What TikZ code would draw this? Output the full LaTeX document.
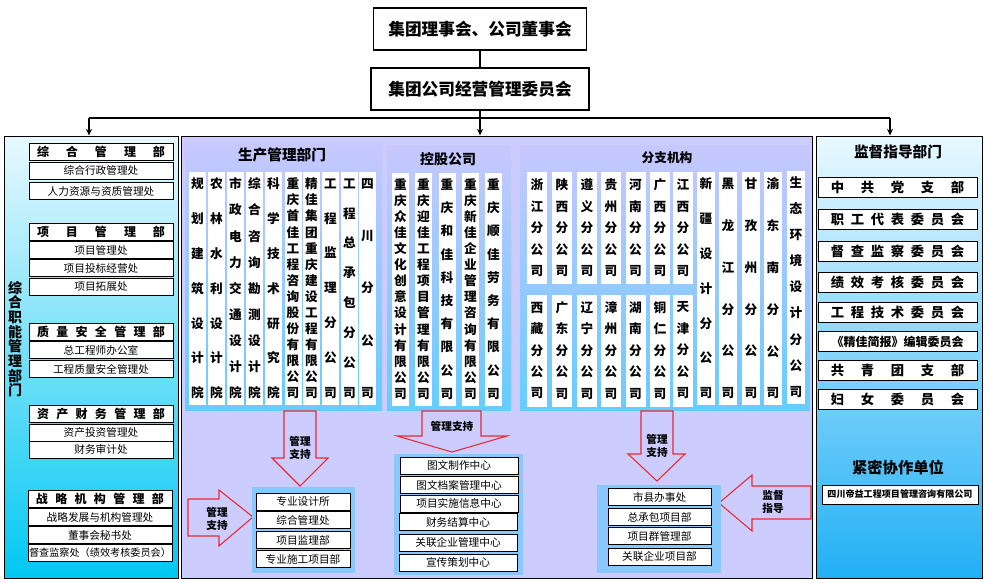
\documentclass[tikz,border=0pt]{standalone}
\usepackage{fontspec}
\setmainfont{Noto Sans CJK SC}
\usetikzlibrary{arrows.meta,fit}

\definecolor{lavpanel}{RGB}{204,204,255}
\definecolor{subtop}{RGB}{200,200,255}
\definecolor{subbot}{RGB}{102,204,255}
\definecolor{lefttop}{RGB}{232,249,255}
\definecolor{leftbot}{RGB}{0,200,242}
\definecolor{righttop}{RGB}{232,249,255}
\definecolor{rightbot}{RGB}{34,176,245}
\definecolor{backblue}{RGB}{136,200,255}
\definecolor{arrowred}{RGB}{235,40,50}

\newcommand{\spreadto}[2]{\hbox to #1{#2}}

\tikzset{every picture/.style={line width=0.75pt}}
\tikzset{
  board/.style={draw, line width=1.1pt, fill=white, minimum width=160pt, minimum height=31.5pt, inner sep=0pt, font=\bfseries\fontsize{12.5}{12.5}\selectfont},
  bus/.style={line width=1.2pt},
  panel/.style={draw, inner sep=0pt},
  unit/.style={draw, fill=white, inner sep=0pt, minimum width=108pt, minimum height=12.75pt, font=\fontsize{8}{8}\selectfont},
  unithead/.style={unit, font=\bfseries\fontsize{9}{9}\selectfont},
  duban/.style={draw, fill=white, inner sep=0pt, minimum width=119.25pt, minimum height=15pt, font=\bfseries\fontsize{10}{10}\selectfont},
  strip/.style={fill=white, inner sep=0pt, minimum width=12.75pt, minimum height=174.75pt, align=center, font=\bfseries\fontsize{9.5}{#1}\selectfont},
  shortstrip/.style={strip=16.1, minimum width=15pt, minimum height=84pt},
  tallstrip/.style={strip=#1, minimum width=13.5pt},
  design/.style={draw, fill=white, inner sep=0pt, minimum width=#1, minimum height=12.75pt, font=\fontsize{8}{8}\selectfont},
  heading/.style={inner sep=0pt, font=\bfseries\fontsize{#1}{#1}\selectfont},
  redarrow/.style={draw=arrowred, line width=0.8pt, line join=miter},
  tag/.style={align=center, inner sep=0pt, font=\bfseries\fontsize{8}{9.75}\selectfont}
}

\begin{document}
\begin{tikzpicture}[x=0.75pt,y=0.75pt,yscale=-1,xscale=1]
\useasboundingbox (0,0) rectangle (985,582);

%Shape: Rectangle (three panels)
\node[panel, top color=lefttop, bottom color=leftbot, fit={(4,136) (178,578)}] (leftpanel) {};
\node[panel, fill=lavpanel, fit={(181,136) (812,578)}] (midpanel) {};
\node[panel, top color=righttop, bottom color=rightbot, fit={(816,136) (982,578)}] (rightpanel) {};

% Text Node
\node[board] (council) at (480,29) {集团理事会、公司董事会};
% Text Node
\node[board, minimum width=163.5pt] (mgmt) at (480,89) {集团公司经营管理委员会};

%Straight Lines
\coordinate (bus) at (480,118);
\coordinate (busL) at (89,118);
\coordinate (busR) at (890,118);
\draw[bus] (council) -- (mgmt);
\draw[bus] (mgmt) -- (bus);
\draw[bus] (busL) -- (busR);
\draw[bus, -{Stealth[length=5pt,width=4.5pt]}] (busL) -- (busL |- leftpanel.north);
\draw[bus, -{Stealth[length=5pt,width=4.5pt]}] (bus) -- (bus |- midpanel.north);
\draw[bus, -{Stealth[length=5pt,width=4.5pt]}] (busR) -- (busR |- rightpanel.north);

%%% left panel
% Text Node
\node[inner sep=0pt, align=center, font=\bfseries\fontsize{10.5}{11}\selectfont] (zhineng) at (15,339) {综\\合\\职\\能\\管\\理\\部\\门};

\node[unithead] (zonghe) at (101,152) {\spreadto{96pt}{综\hfil 合\hfil 管\hfil 理\hfil 部}};
\node[unit] (zonghe1) at (101,170.5) {综合行政管理处};
\node[unit] (zonghe2) at (101,191) {人力资源与资质管理处};

\node[unithead] (xiangmu) at (101,232) {\spreadto{96pt}{项\hfil 目\hfil 管\hfil 理\hfil 部}};
\node[unit] (xiangmu1) at (101,250) {项目管理处};
\node[unit] (xiangmu2) at (101,268) {项目投标经营处};
\node[unit] (xiangmu3) at (101,286.5) {项目拓展处};

\node[unithead] (zhiliang) at (101,332) {\spreadto{96pt}{质\hfil 量\hfil 安\hfil 全\hfil 管\hfil 理\hfil 部}};
\node[unit] (zhiliang1) at (101,350) {总工程师办公室};
\node[unit] (zhiliang2) at (101,369) {工程质量安全管理处};

\node[unithead] (zichan) at (101,414) {\spreadto{96pt}{资\hfil 产\hfil 财\hfil 务\hfil 管\hfil 理\hfil 部}};
\node[unit] (zichan1) at (101,432.5) {资产投资管理处};
\node[unit] (zichan2) at (101,449.5) {财务审计处};

\node[unithead] (zhanlue) at (100,499) {\spreadto{96pt}{战\hfil 略\hfil 机\hfil 构\hfil 管\hfil 理\hfil 部}};
\node[unit] (zhanlue1) at (100,517) {战略发展与机构管理处};
\node[unit] (zhanlue2) at (100,535) {董事会秘书处};
\node[unit, font=\fontsize{7.6}{7.6}\selectfont] (zhanlue3) at (100,553) {督查监察处（绩效考核委员会）};

%%% middle panel
%Shape: Rectangle
\shade[top color=subtop, bottom color=subbot] (185,142) rectangle (382,410);
\shade[top color=subtop, bottom color=subbot] (387,145) rectangle (511,410);
\shade[top color=subtop, bottom color=subbot] (520,145) rectangle (810,410);

% Text Node
\node[heading=11] (shengchan) at (282,155) {生产管理部门};
\node[heading=10.5] (konggu) at (448,159) {控股公司};
\node[heading=9.5] (fenzhi) at (667,158) {分支机构};

% production columns
\node[strip=26.1] (sc1) at (197.5,288.5) {规\\划\\建\\筑\\设\\计\\院};
\node[strip=26.1] (sc2) at (216.5,288.5) {农\\林\\水\\利\\设\\计\\院};
\node[strip=19.6] (sc3) at (235.5,288.5) {市\\政\\电\\力\\交\\通\\设\\计\\院};
\node[strip=19.6] (sc4) at (254.5,288.5) {综\\合\\咨\\询\\勘\\测\\设\\计\\院};
\node[strip=26.1] (sc5) at (273.5,288.5) {科\\学\\技\\术\\研\\究\\院};
\node[strip=12.06] (sc6) at (293,288.5) {重\\庆\\首\\佳\\工\\程\\咨\\询\\股\\份\\有\\限\\公\\司};
\node[strip=12.06] (sc7) at (311.5,288.5) {精\\佳\\集\\团\\重\\庆\\建\\设\\工\\程\\有\\限\\公\\司};
\node[strip=26.1] (sc8) at (330.5,288.5) {工\\程\\监\\理\\分\\公\\司};
\node[strip=22.4] (sc9) at (349.5,288.5) {工\\程\\总\\承\\包\\分\\公\\司};
\node[strip=39.2] (sc10) at (367.5,288.5) {四\\川\\分\\公\\司};

% holding columns
\node[strip=12.06] (kg1) at (400.5,289) {重\\庆\\众\\佳\\文\\化\\创\\意\\设\\计\\有\\限\\公\\司};
\node[strip=12.06] (kg2) at (423.5,289) {重\\庆\\迎\\佳\\工\\程\\项\\目\\管\\理\\有\\限\\公\\司};
\node[strip=17.4] (kg3) at (447,289) {重\\庆\\和\\佳\\科\\技\\有\\限\\公\\司};
\node[strip=12.06] (kg4) at (470.5,289) {重\\庆\\新\\佳\\企\\业\\管\\理\\咨\\询\\有\\限\\公\\司};
\node[strip=17.4] (kg5) at (493.5,289) {重\\庆\\顺\\佳\\劳\\务\\有\\限\\公\\司};

% branch columns
\node[shortstrip] (fz1) at (537,228) {浙\\江\\分\\公\\司};
\node[shortstrip] (fz2) at (562,228) {陕\\西\\分\\公\\司};
\node[shortstrip] (fz3) at (587,228) {遵\\义\\分\\公\\司};
\node[shortstrip] (fz4) at (611,228) {贵\\州\\分\\公\\司};
\node[shortstrip] (fz5) at (635.5,228) {河\\南\\分\\公\\司};
\node[shortstrip] (fz6) at (660,228) {广\\西\\分\\公\\司};
\node[shortstrip] (fz7) at (683,228) {江\\西\\分\\公\\司};
\node[shortstrip] (fz8) at (537,350.5) {西\\藏\\分\\公\\司};
\node[shortstrip] (fz9) at (562,350.5) {广\\东\\分\\公\\司};
\node[shortstrip] (fz10) at (587,350.5) {辽\\宁\\分\\公\\司};
\node[shortstrip] (fz11) at (611,350.5) {漳\\州\\分\\公\\司};
\node[shortstrip] (fz12) at (635.5,350.5) {湖\\南\\分\\公\\司};
\node[shortstrip] (fz13) at (660,350.5) {铜\\仁\\分\\公\\司};
\node[shortstrip] (fz14) at (683,350.5) {天\\津\\分\\公\\司};
\node[tallstrip=26.1] (fz15) at (706,288.5) {新\\疆\\设\\计\\分\\公\\司};
\node[tallstrip=31.35] (fz16) at (728,288.5) {黑\\龙\\江\\分\\公\\司};
\node[tallstrip=31.35] (fz17) at (751,288.5) {甘\\孜\\州\\分\\公\\司};
\node[tallstrip=31.35] (fz18) at (773,288.5) {渝\\东\\南\\分\\公\\司};
\node[tallstrip=19.6] (fz19) at (796,287) {生\\态\\环\\境\\设\\计\\分\\公\\司};

%Shape: Arrows
\draw[redarrow] (284,411) -- (284,458) -- (272,458) -- (300,486) -- (328,458) -- (316,458) -- (316,411) -- cycle;
\draw[redarrow] (422,411) -- (422,436) -- (397,436) -- (452,452) -- (507,436) -- (481,436) -- (481,411) -- cycle;
\draw[redarrow] (641,411) -- (641,454) -- (628,454) -- (657,481) -- (685,454) -- (673,454) -- (673,411) -- cycle;
\draw[redarrow] (188,499) -- (219,499) -- (219,490) -- (253,517) -- (219,546) -- (219,536) -- (188,536) -- cycle;
\draw[redarrow] (811,486) -- (752,486) -- (752,475) -- (719,503) -- (752,531) -- (752,519) -- (811,519) -- cycle;

% Text Node
\node[tag] (zhichi1) at (300,447.5) {管理\\支持};
\node[tag] (zhichi2) at (452,426) {管理支持};
\node[tag] (zhichi3) at (657,446) {管理\\支持};
\node[tag] (zhichi4) at (217,519) {管理\\支持};
\node[tag] (zhidao) at (773,502) {监督\\指导};

%Shape: Rectangle
\fill[backblue] (252,487) rectangle (355,573);
\fill[backblue] (394,454) rectangle (523,575);
\fill[backblue] (597,485) rectangle (721,573);

\node[design=70.5pt] (suo1) at (303,501.5) {专业设计所};
\node[design=70.5pt] (suo2) at (303,520) {综合管理处};
\node[design=70.5pt] (suo3) at (303,540) {项目监理部};
\node[design=70.5pt] (suo4) at (303,559) {专业施工项目部};

\node[design=88.5pt] (zx1) at (459,465.5) {图文制作中心};
\node[design=88.5pt] (zx2) at (459,485) {图文档案管理中心};
\node[design=88.5pt] (zx3) at (459,503.5) {项目实施信息中心};
\node[design=88.5pt] (zx4) at (458,522) {财务结算中心};
\node[design=88.5pt] (zx5) at (458,542.5) {关联企业管理中心};
\node[design=88.5pt] (zx6) at (458,562.5) {宣传策划中心};

\node[design=77.25pt] (bu1) at (659.5,497) {市县办事处};
\node[design=77.25pt] (bu2) at (659.5,517) {总承包项目部};
\node[design=77.25pt] (bu3) at (659.5,536) {项目群管理部};
\node[design=77.25pt] (bu4) at (659.5,556.5) {关联企业项目部};

%%% right panel
% Text Node
\node[heading=11] (jiandu) at (898,152) {监督指导部门};
\node[duban] (db1) at (897.5,187) {\spreadto{100pt}{中\hfil 共\hfil 党\hfil 支\hfil 部}};
\node[duban] (db2) at (897.5,219) {\spreadto{100pt}{职\hfil 工\hfil 代\hfil 表\hfil 委\hfil 员\hfil 会}};
\node[duban] (db3) at (897.5,251) {\spreadto{100pt}{督\hfil 查\hfil 监\hfil 察\hfil 委\hfil 员\hfil 会}};
\node[duban] (db4) at (897.5,282.5) {\spreadto{100pt}{绩\hfil 效\hfil 考\hfil 核\hfil 委\hfil 员\hfil 会}};
\node[duban] (db5) at (897.5,312.5) {\spreadto{100pt}{工\hfil 程\hfil 技\hfil 术\hfil 委\hfil 员\hfil 会}};
\node[duban, font=\bfseries\fontsize{9}{9}\selectfont] (db6) at (897.5,341.5) {《精佳简报》编辑委员会};
\node[duban] (db7) at (897.5,370) {\spreadto{100pt}{共\hfil 青\hfil 团\hfil 支\hfil 部}};
\node[duban] (db8) at (897.5,399) {\spreadto{100pt}{妇\hfil 女\hfil 委\hfil 员\hfil 会}};

\node[heading=11.5] (xiezuo) at (898,468) {紧密协作单位};
\node[draw, fill=white, inner sep=0pt, minimum width=117pt, minimum height=14.25pt, font=\bfseries\fontsize{6.8}{6.8}\selectfont] (diyi) at (900,494.5) {四川帝益工程项目管理咨询有限公司};

\end{tikzpicture}
\end{document}
